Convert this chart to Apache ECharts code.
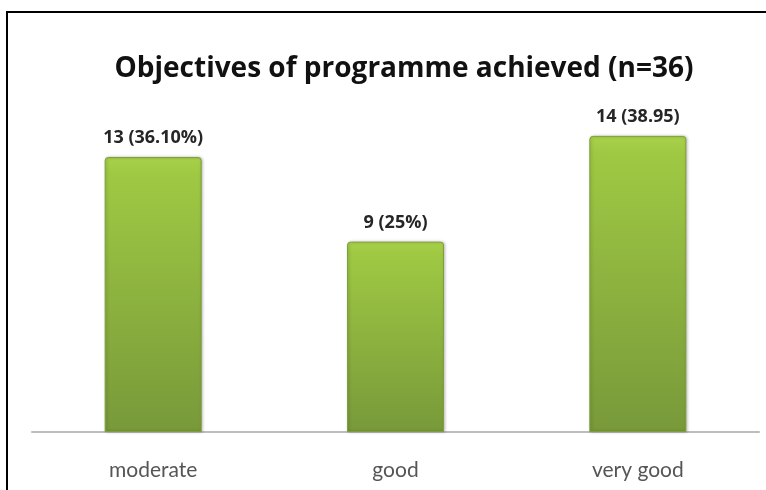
<!DOCTYPE html>
<html>
<head>
<meta charset="utf-8">
<script src="https://cdn.jsdelivr.net/npm/echarts@6/dist/echarts.min.js"></script>
<style>
  html, body { margin: 0; padding: 0; background: #fff; }
  #frame { position: absolute; left: 6px; top: 11px; width: 760px; height: 479px;
           border-left: 2px solid #000; border-top: 2px solid #000; box-sizing: border-box; }
  #chart { position: absolute; left: 0; top: 0; width: 766px; height: 490px; }
</style>
</head>
<body>
<div id="frame"></div>
<div id="chart"></div>
<script>
// Responses to "objectives of programme achieved"
const categories = ['moderate', 'good', 'very good'];
const counts = [13, 9, 14];
const shareLabels = ['36.10%', '25%', '38.95'];

const chart = echarts.init(document.getElementById('chart'), null, { renderer: 'canvas' });

const barFill = new echarts.graphic.LinearGradient(0, 0, 0, 1, [
  { offset: 0, color: '#a9d14b' },
  { offset: 0.06, color: '#9fc943' },
  { offset: 1, color: '#78993a' }
]);

chart.setOption({
  backgroundColor: 'transparent',
  animation: false,
  title: {
    text: 'Objectives of programme achieved (n=36)',
    left: 399,
    top: 50,
    textAlign: 'center',
    textStyle: { fontFamily: 'Open Sans', fontWeight: 'bold', fontSize: 28, color: '#111' }
  },
  grid: { left: 32, right: 7, top: 93.6, bottom: 58, containLabel: false },
  xAxis: {
    type: 'category',
    data: categories,
    axisLine: { lineStyle: { color: '#bdbdbd', width: 2 } },
    axisTick: { show: false },
    axisLabel: { fontFamily: 'Lato', fontSize: 21, color: '#555', margin: 28 }
  },
  yAxis: {
    type: 'value',
    min: 0,
    max: 16,
    show: false
  },
  series: [{
    type: 'bar',
    data: counts,
    barWidth: 97,
    itemStyle: {
      color: barFill,
      borderColor: '#7f9f3a',
      borderWidth: 1,
      borderRadius: [3, 3, 0, 0],
      shadowColor: 'rgba(0,0,0,0.25)',
      shadowBlur: 3,
      shadowOffsetX: 1,
      shadowOffsetY: 0
    },
    label: {
      show: true,
      position: 'top',
      distance: 10,
      fontFamily: 'Open Sans',
      fontWeight: 'bold',
      fontSize: 18,
      color: '#262626',
      formatter: p => p.value + ' (' + shareLabels[p.dataIndex] + ')'
    }
  }]
});
</script>
</body>
</html>
